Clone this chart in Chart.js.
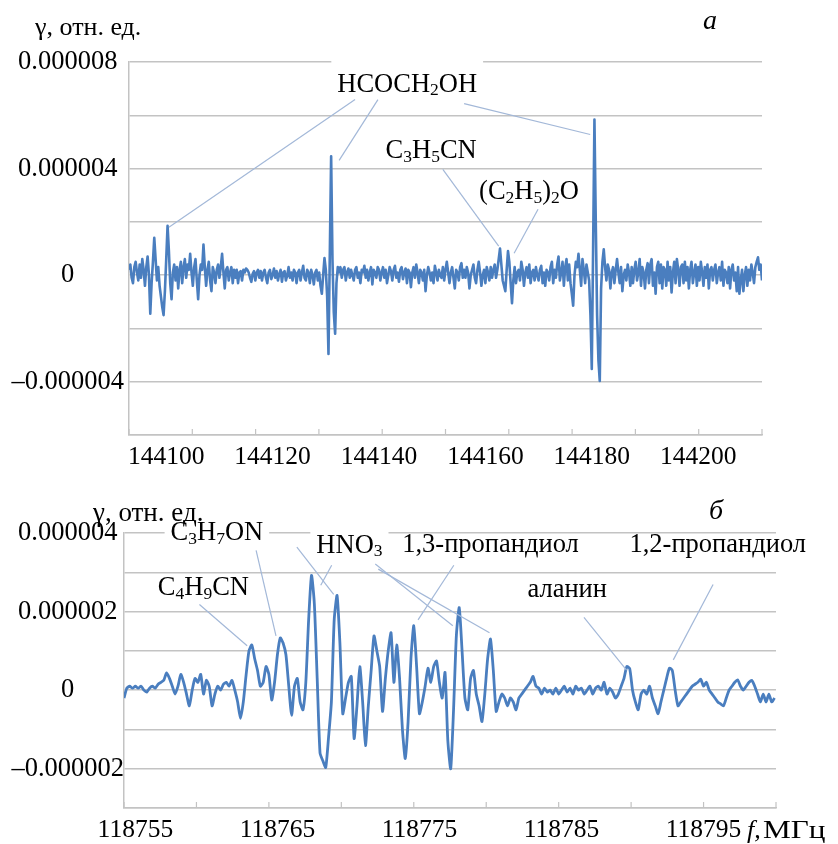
<!DOCTYPE html>
<html><head><meta charset="utf-8">
<script src="https://cdn.jsdelivr.net/npm/chart.js@4.4.1/dist/chart.umd.min.js"></script>
<style>
html,body{margin:0;padding:0;background:#fff;}
#wrap{position:relative;width:838px;height:844px;overflow:hidden;background:#fff;}
.box{position:absolute;left:0;width:838px;}
</style></head><body>
<div id="wrap">
<div class="box" style="top:0;height:470px"><canvas id="c1" width="838" height="470"></canvas></div>
<div class="box" style="top:470px;height:374px"><canvas id="c2" width="838" height="374"></canvas></div>
</div>
<script>
// ---------- DATA ----------
// Panel a: frequency grid (MHz) and signal gamma (rel. units)
const topFreqStart = 144093, topFreqStep = 0.25;
const topGamma = [
0.2e-6,0.4e-6,-0.1e-6,-0.3e-6,0.3e-6,0.5e-6,0.1e-6,-0.2e-6,0.4e-6,-0.1e-6,
0.6e-6,0.2e-6,-0.4e-6,0.3e-6,0.7e-6,0.0,-1.45e-6,-0.3e-6,0.5e-6,1.4e-6,
0.6e-6,-0.2e-6,0.3e-6,-0.4e-6,-0.8e-6,-1.2e-6,-1.5e-6,-0.6e-6,0.6e-6,1.85e-6,
0.9e-6,-0.3e-6,-0.9e-6,0.1e-6,0.4e-6,-0.2e-6,0.3e-6,-0.5e-6,0.2e-6,0.5e-6,
-0.3e-6,0.3e-6,0.6e-6,-0.1e-6,0.4e-6,0.2e-6,0.8e-6,0.1e-6,-0.4e-6,0.3e-6,
0.6e-6,-0.2e-6,-0.9e-6,0.0,0.4e-6,0.2e-6,1.15e-6,0.3e-6,-0.4e-6,0.2e-6,
0.5e-6,-0.2e-6,-0.6e-6,0.3e-6,0.1e-6,-0.3e-6,0.2e-6,0.4e-6,-0.1e-6,0.3e-6,
0.8e-6,0.1e-6,-0.5e-6,0.2e-6,0.3e-6,-0.2e-6,0.1e-6,0.3e-6,-0.3e-6,0.2e-6,
-0.1e-6,0.2e-6,-0.3e-6,0.1e-6,0.15e-6,-0.2e-6,0.2e-6,0.1e-6,0.25e-6,0.2e-6,
0.1e-6,-0.1e-6,-0.25e-6,0.05e-6,0.15e-6,-0.2e-6,0.1e-6,0.2e-6,-0.1e-6,0.15e-6,
-0.2e-6,0.1e-6,0.2e-6,-0.1e-6,-0.3e-6,0.1e-6,0.2e-6,-0.15e-6,0.0,0.25e-6,
-0.1e-6,0.15e-6,-0.2e-6,0.05e-6,0.2e-6,-0.25e-6,0.1e-6,0.15e-6,-0.2e-6,0.0,
0.3e-6,-0.1e-6,0.1e-6,-0.2e-6,0.2e-6,0.1e-6,-0.3e-6,0.1e-6,0.2e-6,-0.2e-6,
0.1e-6,0.35e-6,-0.1e-6,-0.2e-6,0.2e-6,0.1e-6,-0.3e-6,0.2e-6,0.0,-0.35e-6,
0.1e-6,0.2e-6,-0.2e-6,0.1e-6,-0.4e-6,-0.7e-6,0.0,0.64e-6,0.2e-6,-0.8e-6,
-2.96e-6,0.8e-6,4.46e-6,0.6e-6,-1.4e-6,-2.2e-6,-0.3e-6,0.3e-6,0.1e-6,0.3e-6,
-0.1e-6,0.2e-6,0.3e-6,-0.2e-6,0.1e-6,0.25e-6,-0.1e-6,0.2e-6,0.0,-0.2e-6,
0.2e-6,0.3e-6,-0.1e-6,0.1e-6,-0.3e-6,0.2e-6,0.1e-6,0.35e-6,-0.1e-6,0.2e-6,
-0.2e-6,0.1e-6,0.3e-6,-0.35e-6,0.2e-6,0.1e-6,-0.1e-6,0.3e-6,0.2e-6,-0.2e-6,
0.1e-6,0.3e-6,-0.1e-6,0.2e-6,-0.3e-6,0.0,0.3e-6,0.15e-6,-0.2e-6,0.2e-6,
0.35e-6,-0.1e-6,0.1e-6,-0.25e-6,0.2e-6,0.3e-6,-0.15e-6,0.1e-6,0.25e-6,-0.3e-6,
0.2e-6,0.1e-6,-0.45e-6,0.1e-6,0.3e-6,-0.1e-6,0.4e-6,0.1e-6,-0.3e-6,0.2e-6,
0.1e-6,-0.2e-6,0.2e-6,-0.6e-6,0.0,0.3e-6,0.1e-6,-0.2e-6,0.1e-6,-0.3e-6,
0.35e-6,0.1e-6,-0.2e-6,0.2e-6,0.0,-0.1e-6,0.3e-6,-0.2e-6,0.2e-6,0.5e-6,
0.1e-6,-0.3e-6,0.1e-6,0.3e-6,-0.1e-6,-0.5e-6,0.2e-6,0.1e-6,-0.2e-6,0.3e-6,
0.45e-6,-0.1e-6,0.2e-6,-0.1e-6,0.3e-6,0.1e-6,-0.5e-6,0.0,0.2e-6,0.4e-6,
-0.1e-6,-0.3e-6,0.2e-6,0.5e-6,0.1e-6,-0.4e-6,0.0,0.2e-6,-0.3e-6,0.3e-6,
0.1e-6,-0.2e-6,0.3e-6,-0.1e-6,0.2e-6,0.4e-6,-0.1e-6,0.2e-6,0.6e-6,1.0e-6,
0.4e-6,-0.2e-6,-0.4e-6,-0.6e-6,0.2e-6,0.9e-6,0.5e-6,-0.3e-6,-1.05e-6,-0.2e-6,
0.3e-6,-0.3e-6,0.1e-6,0.2e-6,-0.2e-6,0.5e-6,0.2e-6,-0.4e-6,0.1e-6,0.3e-6,
-0.1e-6,0.4e-6,-0.3e-6,0.1e-6,0.2e-6,-0.2e-6,0.3e-6,0.0,-0.2e-6,0.2e-6,
0.35e-6,-0.3e-6,0.1e-6,-0.4e-6,0.2e-6,0.1e-6,-0.2e-6,0.3e-6,0.5e-6,-0.3e-6,
0.2e-6,-0.1e-6,0.4e-6,0.7e-6,-0.2e-6,0.1e-6,0.5e-6,-0.4e-6,0.3e-6,0.6e-6,
-0.2e-6,0.4e-6,-0.3e-6,-0.7e-6,-1.15e-6,0.0,0.5e-6,0.3e-6,0.8e-6,0.2e-6,
-0.4e-6,0.6e-6,0.2e-6,-0.3e-6,0.4e-6,0.1e-6,-0.2e-6,-1.5e-6,-3.52e-6,1.0e-6,
5.84e-6,2.0e-6,-1.5e-6,-3.2e-6,-3.97e-6,-0.5e-6,0.5e-6,0.97e-6,0.3e-6,-0.2e-6,
0.4e-6,0.2e-6,-0.5e-6,0.1e-6,0.3e-6,-0.3e-6,0.2e-6,0.6e-6,0.1e-6,-0.3e-6,
0.3e-6,-0.6e-6,0.0,0.2e-6,-0.2e-6,0.4e-6,0.1e-6,-0.4e-6,0.3e-6,-0.3e-6,
0.2e-6,0.5e-6,-0.2e-6,0.1e-6,0.6e-6,-0.4e-6,0.3e-6,0.1e-6,-0.5e-6,0.2e-6,
0.45e-6,-0.3e-6,0.4e-6,0.6e-6,-0.4e-6,0.1e-6,-0.7e-6,0.3e-6,0.5e-6,-0.3e-6,
0.4e-6,-0.5e-6,0.3e-6,0.2e-6,-0.4e-6,0.5e-6,-0.2e-6,0.3e-6,-0.65e-6,0.1e-6,
0.5e-6,-0.3e-6,0.6e-6,0.2e-6,-0.4e-6,0.3e-6,0.4e-6,-0.3e-6,0.5e-6,-0.2e-6,
0.3e-6,-0.5e-6,0.2e-6,0.5e-6,-0.3e-6,0.1e-6,0.4e-6,-0.4e-6,0.3e-6,-0.2e-6,
0.5e-6,0.1e-6,-0.4e-6,0.3e-6,-0.1e-6,0.4e-6,-0.5e-6,0.2e-6,0.3e-6,-0.2e-6,
0.2e-6,0.4e-6,-0.3e-6,0.1e-6,0.3e-6,-0.2e-6,0.5e-6,-0.4e-6,0.2e-6,0.1e-6,
-0.3e-6,0.3e-6,-0.5e-6,0.2e-6,0.4e-6,-0.2e-6,0.1e-6,-0.6e-6,0.3e-6,-0.7e-6,
-0.2e-6,0.2e-6,-0.6e-6,0.0,0.3e-6,-0.4e-6,0.2e-6,-0.2e-6,0.4e-6,0.1e-6,
-0.3e-6,0.3e-6,0.5e-6,0.67e-6,0.2e-6,0.4e-6,-0.2e-6
];
const topXTicks = [144100, 144120, 144140, 144160, 144180, 144200];
const topYGrid = [-6e-6, -4e-6, -2e-6, 0, 2e-6, 4e-6, 6e-6, 8e-6];

// Panel б
const botFreqStart = 118754.2, botFreqStep = 0.2;
const botGamma = [
-0.2e-6,0.05e-6,0.1e-6,0.05e-6,0.1e-6,0.05e-6,0.1e-6,0.0,-0.05e-6,0.05e-6,
0.1e-6,0.05e-6,0.15e-6,0.2e-6,0.25e-6,0.44e-6,0.3e-6,0.1e-6,-0.1e-6,0.1e-6,
0.4e-6,0.2e-6,-0.1e-6,-0.4e-6,0.0,0.3e-6,0.2e-6,0.4e-6,-0.1e-6,0.25e-6,
0.1e-6,-0.4e-6,-0.1e-6,0.1e-6,0.0,0.15e-6,0.2e-6,0.1e-6,0.25e-6,0.0,
-0.3e-6,-0.72e-6,-0.3e-6,0.4e-6,1.0e-6,1.15e-6,0.8e-6,0.5e-6,0.1e-6,0.2e-6,
0.6e-6,0.4e-6,-0.25e-6,0.2e-6,0.9e-6,1.33e-6,1.2e-6,0.9e-6,0.1e-6,-0.64e-6,
0.1e-6,0.3e-6,-0.3e-6,-0.5e-6,0.2e-6,1.8e-6,2.92e-6,2.2e-6,0.3e-6,-1.6e-6,
-1.8e-6,-1.97e-6,-1.2e-6,-0.3e-6,1.8e-6,2.41e-6,1.2e-6,-0.6e-6,-0.2e-6,0.2e-6,
0.35e-6,-1.23e-6,-0.4e-6,0.6e-6,-0.3e-6,-1.41e-6,-0.4e-6,0.5e-6,1.38e-6,1.0e-6,
0.6e-6,-0.54e-6,0.3e-6,1.0e-6,1.46e-6,0.2e-6,1.15e-6,0.3e-6,-1.0e-6,-1.74e-6,
-0.8e-6,0.8e-6,1.64e-6,0.6e-6,-0.6e-6,-0.3e-6,0.1e-6,0.56e-6,0.2e-6,0.6e-6,
0.74e-6,0.2e-6,-0.2e-6,0.45e-6,-1.3e-6,-2.0e-6,-0.5e-6,1.4e-6,2.1e-6,1.0e-6,
-0.2e-6,-0.5e-6,0.3e-6,0.5e-6,-0.1e-6,-0.4e-6,-0.8e-6,-0.1e-6,0.8e-6,1.3e-6,
0.5e-6,-0.54e-6,-0.3e-6,-0.1e-6,-0.2e-6,-0.4e-6,-0.2e-6,-0.3e-6,-0.5e-6,-0.2e-6,
-0.1e-6,0.0,0.1e-6,0.2e-6,0.35e-6,0.1e-6,0.05e-6,-0.1e-6,0.05e-6,-0.05e-6,
0.0,-0.1e-6,0.05e-6,-0.1e-6,0.0,0.1e-6,-0.05e-6,0.05e-6,-0.1e-6,0.1e-6,
0.0,0.05e-6,-0.1e-6,0.0,0.1e-6,-0.1e-6,0.05e-6,0.1e-6,0.0,0.2e-6,
-0.1e-6,0.05e-6,-0.05e-6,-0.2e-6,-0.1e-6,0.1e-6,0.3e-6,0.6e-6,0.55e-6,0.0,
-0.3e-6,-0.5e-6,-0.1e-6,0.0,-0.1e-6,0.1e-6,-0.2e-6,-0.4e-6,-0.6e-6,-0.3e-6,
0.0,0.3e-6,0.56e-6,0.5e-6,0.0,-0.4e-6,-0.3e-6,-0.2e-6,-0.1e-6,0.0,
0.1e-6,0.15e-6,0.2e-6,0.28e-6,0.1e-6,0.2e-6,0.0,-0.1e-6,-0.2e-6,-0.3e-6,
-0.35e-6,-0.4e-6,-0.2e-6,0.0,0.1e-6,0.2e-6,0.26e-6,0.1e-6,0.0,0.1e-6,
0.2e-6,0.25e-6,0.1e-6,-0.1e-6,-0.3e-6,-0.1e-6,-0.3e-6,-0.1e-6,-0.3e-6,-0.2e-6
];
const botXTicks = [118755, 118765, 118775, 118785, 118795];
const botYGrid = [-3e-6, -2e-6, -1e-6, 0, 1e-6, 2e-6, 3e-6, 4e-6];

// Annotations (data coordinates): label text, centre frequency, baseline value
const topLabels = [
  {text: 'HCOCH_2OH', f: 144145.3, v: 6.89e-6, bg: 32},
  {text: 'C_3H_5CN', f: 144149.8, v: 4.38e-6},
  {text: '(C_2H_5)_2O', f: 144168.2, v: 2.85e-6}
];
const topLeaders = [
  [144135.5, 6.59e-6, 144100.5, 1.8e-6],
  [144139.8, 6.59e-6, 144132.5, 4.31e-6],
  [144156.0, 6.44e-6, 144179.7, 5.28e-6],
  [144152.0, 3.97e-6, 144162.5, 1.09e-6],
  [144169.9, 2.47e-6, 144165.4, 0.82e-6]
];
const botLabels = [
  {text: 'C_4H_9CN', f: 118759.79, v: 2.41e-6},
  {text: 'C_3H_7ON', f: 118760.74, v: 3.82e-6, bg: 14},
  {text: 'HNO_3', f: 118770.07, v: 3.49e-6, bg: 26},
  {text: '1,3-пропандиол', f: 118780.0, v: 3.51e-6},
  {text: '1,2-пропандиол', f: 118796.0, v: 3.51e-6},
  {text: 'аланин', f: 118785.4, v: 2.36e-6}
];
const botLeaders = [
  [118759.51, 2.18e-6, 118762.87, 1.13e-6],
  [118763.50, 3.56e-6, 118764.90, 1.38e-6],
  [118766.37, 3.64e-6, 118768.96, 2.44e-6],
  [118768.82, 3.18e-6, 118768.05, 2.67e-6],
  [118771.89, 3.21e-6, 118777.35, 1.64e-6],
  [118772.10, 3.08e-6, 118779.93, 1.46e-6],
  [118777.42, 3.18e-6, 118774.90, 1.79e-6],
  [118786.58, 1.85e-6, 118789.58, 0.51e-6],
  [118795.67, 2.69e-6, 118792.87, 0.77e-6]
];

// ---------- STYLE ----------
const SERIF = '"Liberation Serif", "Times New Roman", serif';
const LINE = '#4a7ebf';
const GRID = '#c3c3c3';
const LEADER = '#a3b8d8';
const FS = 26.5;

function toPoints(start, step, arr) {
  return arr.map((v, i) => ({x: start + step * i, y: v}));
}

function parseRich(str) {
  const parts = [];
  let i = 0;
  while (i < str.length) {
    if (str[i] === '_') { parts.push({t: str[i + 1], sub: true}); i += 2; }
    else { let j = i; while (j < str.length && str[j] !== '_') j++; parts.push({t: str.slice(i, j), sub: false}); i = j; }
  }
  return parts;
}
function measureRich(ctx, parts, size) {
  let w = 0;
  parts.forEach(p => { ctx.font = (p.sub ? size * 0.66 : size) + 'px ' + SERIF; p.w = ctx.measureText(p.t).width; w += p.w; });
  return w;
}
function drawRich(ctx, parts, left, base, size) {
  let x = left;
  ctx.textBaseline = 'alphabetic'; ctx.textAlign = 'left'; ctx.fillStyle = '#000';
  parts.forEach(p => {
    ctx.font = (p.sub ? size * 0.66 : size) + 'px ' + SERIF;
    ctx.fillText(p.t, x, p.sub ? base + size * 0.13 : base);
    x += p.w;
  });
}

function decor(labels, leaders, intervals, fixedTexts) {
  return {
    id: 'decor',
    afterDatasetsDraw(chart) {
      const {ctx, chartArea: ca, scales: {x, y}} = chart;
      ctx.save();
      // inside tick marks on the category axis
      ctx.strokeStyle = GRID; ctx.lineWidth = 1.2;
      for (let k = 0; k <= intervals; k++) {
        const px = ca.left + (ca.right - ca.left) * k / intervals;
        ctx.beginPath(); ctx.moveTo(px, ca.bottom); ctx.lineTo(px, ca.bottom - 6); ctx.stroke();
      }
      const items = labels.map(l => {
        const parts = parseRich(l.text);
        const w = measureRich(ctx, parts, FS);
        const cx = x.getPixelForValue(l.f), base = y.getPixelForValue(l.v);
        return {l, parts, w, left: cx - w / 2, base};
      });
      ctx.fillStyle = '#fff';
      items.forEach(it => { if (it.l.bg) ctx.fillRect(it.left - 6, it.base - it.l.bg, it.w + 12, it.l.bg + 8); });
      ctx.strokeStyle = LEADER; ctx.lineWidth = 1.2;
      leaders.forEach(s => {
        ctx.beginPath();
        ctx.moveTo(x.getPixelForValue(s[0]), y.getPixelForValue(s[1]));
        ctx.lineTo(x.getPixelForValue(s[2]), y.getPixelForValue(s[3]));
        ctx.stroke();
      });
      items.forEach(it => drawRich(ctx, it.parts, it.left, it.base, FS));
      ctx.restore();
    },
    afterDraw(chart) {
      const ctx = chart.ctx;
      ctx.save();
      ctx.fillStyle = '#000'; ctx.textBaseline = 'alphabetic'; ctx.textAlign = 'left';
      fixedTexts.forEach(t => {
        ctx.save();
        ctx.font = (t.italic ? 'italic ' : '') + t.size + 'px ' + SERIF;
        ctx.translate(t.x, t.y);
        ctx.scale(t.sx || 1, 1);
        ctx.fillText(t.text, 0, 0);
        ctx.restore();
      });
      ctx.restore();
    }
  };
}

function yLabel(every) {
  return function (value) {
    const m = Math.round(value * 1e6);
    if (m % every !== 0) return '';
    if (m === 0) return '0';
    return (m < 0 ? '\u2013' : '') + (Math.abs(m) / 1e6).toFixed(6);
  };
}

function makeChart(id, o) {
  return new Chart(document.getElementById(id), {
    type: 'line',
    data: {datasets: [{data: o.points, borderColor: LINE, borderWidth: o.lw, pointRadius: 0, tension: o.tension, fill: false, borderJoinStyle: 'round'}]},
    options: {
      responsive: false, animation: false, devicePixelRatio: 1,
      layout: {padding: o.padding},
      plugins: {legend: {display: false}, tooltip: {enabled: false}},
      scales: {
        x: {
          type: 'linear', min: o.xmin, max: o.xmax,
          afterBuildTicks: s => { s.ticks = o.xticks.map(v => ({value: v})); },
          afterFit: s => { s.height = o.xh; },
          grid: {display: false, drawTicks: false},
          border: {display: true, color: GRID, width: 1.5},
          ticks: {autoSkip: false, maxRotation: 0, padding: 7, color: '#000', font: {family: SERIF, size: 25.5}, callback: v => String(v)}
        },
        y: {
          min: o.ymin, max: o.ymax,
          afterBuildTicks: s => { s.ticks = o.ygrid.map(v => ({value: v})); },
          afterFit: s => { s.width = o.yw; },
          grid: {color: GRID, lineWidth: 1.5, drawTicks: false},
          border: {display: true, color: GRID, width: 1.5},
          ticks: {crossAlign: 'center', padding: o.ypad, color: '#000', font: {family: SERIF, size: 26.5}, callback: o.ylab}
        }
      }
    },
    plugins: [decor(o.labels, o.leaders, o.intervals, o.fixed)]
  });
}

makeChart('c1', {
  points: toPoints(topFreqStart, topFreqStep, topGamma), tension: 0, lw: 2.6,
  padding: {top: 62, right: 76, left: 0, bottom: 0},
  xmin: 144093, xmax: 144212, xticks: topXTicks, xh: 35,
  ymin: -6e-6, ymax: 8e-6, ygrid: topYGrid, yw: 129, ypad: 5, ylab: yLabel(4),
  labels: topLabels, leaders: topLeaders, intervals: 10,
  fixed: [
    {text: 'γ, отн. ед.', x: 35, y: 35, size: 26},
    {text: 'a', x: 703, y: 29, size: 28, italic: true}
  ]
});

makeChart('c2', {
  points: toPoints(botFreqStart, botFreqStep, botGamma), tension: 0.2, lw: 2.8,
  padding: {top: 63, right: 62, left: 0, bottom: 0},
  xmin: 118754.2, xmax: 118800.1, xticks: botXTicks, xh: 36,
  ymin: -3e-6, ymax: 4e-6, ygrid: botYGrid, yw: 124, ypad: 0, ylab: yLabel(2),
  labels: botLabels, leaders: botLeaders, intervals: 9,
  fixed: [
    {text: 'γ, отн. ед.', x: 93, y: 51, size: 27},
    {text: 'б', x: 709, y: 49, size: 28, italic: true},
    {text: 'f,', x: 747, y: 368, size: 26, italic: true},
    {text: 'МГц', x: 763, y: 368, size: 26, sx: 1.2}
  ]
});
</script>
</body></html>
